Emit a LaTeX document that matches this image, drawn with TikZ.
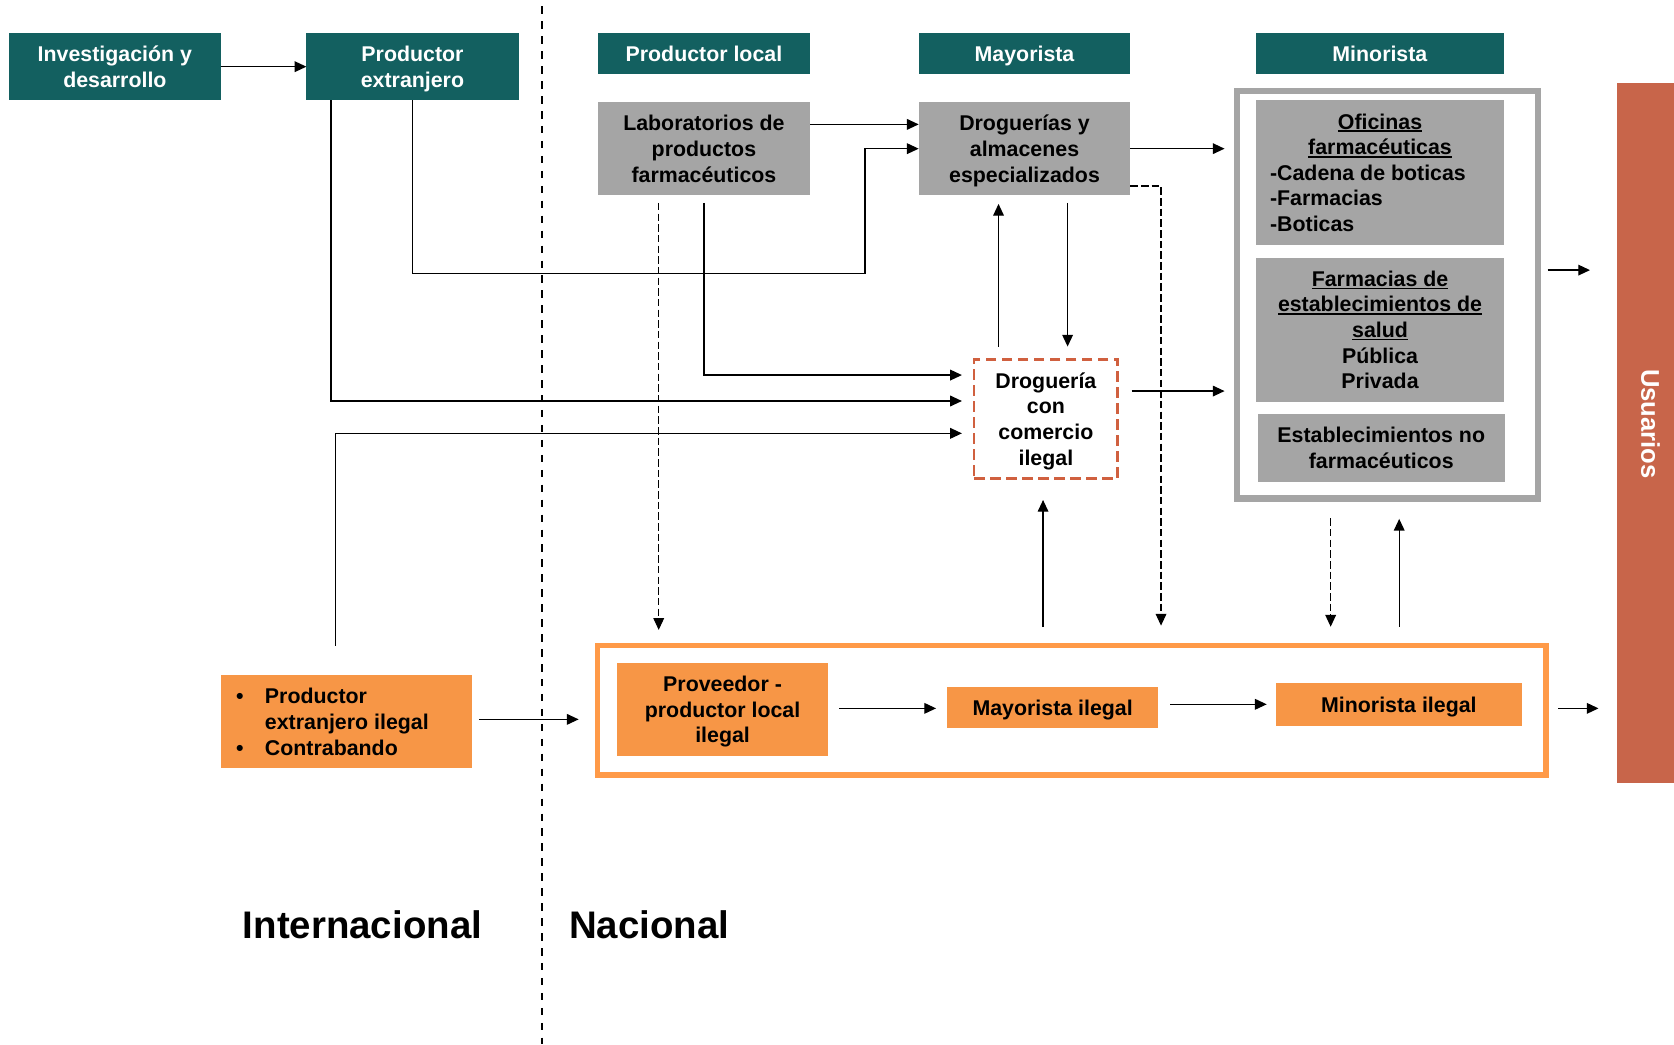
\documentclass[tikz,border=0pt]{standalone}
\usepackage{fontspec}
\setmainfont{Liberation Sans}
\usetikzlibrary{arrows.meta,calc}
\definecolor{tealc}{HTML}{136060}
\definecolor{grayc}{HTML}{A5A5A5}
\definecolor{orangec}{HTML}{F79646}
\definecolor{orline}{HTML}{FF9A48}
\definecolor{usuc}{HTML}{C8654A}
\definecolor{redash}{HTML}{D0603F}
\newcommand\myul[1]{\leavevmode\setbox0\hbox{#1}\rlap{\rule[-2.8pt]{\wd0}{1.5pt}}\box0}
\newcommand\bodyf{\fontsize{20}{24}\selectfont\bfseries}
\tikzset{
  base/.style={inner sep=0pt, outer sep=0pt, align=center, font=\bodyf, anchor=north west, text depth=0pt},
  hdr/.style={base, fill=tealc, text=white},
  graybox/.style={base, fill=grayc},
  orbox/.style={base, fill=orangec},
  arr/.style={-{Triangle[length=11pt,width=10pt]}, line width=1.2pt},
  dsh/.style={dash pattern=on 7pt off 3pt, line width=1pt},
}
\begin{document}
\begin{tikzpicture}[x=1pt,y=-1pt]
\useasboundingbox (0,0) rectangle (1568,978);
% divider
\coordinate (div1) at (508,6);
\coordinate (div2) at (508,978);
\draw[line width=2pt, dash pattern=on 7pt off 7pt] (div1) -- (div2);
% headers
\node[hdr, minimum width=198.2pt, minimum height=62.5pt] (inv) at (8.5,31.2) {Investigación y\\desarrollo};
\node[hdr, minimum width=198.7pt, minimum height=62.5pt] (pext) at (287,31.2) {Productor\\extranjero};
\node[hdr, minimum width=198.7pt, minimum height=38.1pt] (ploc) at (560,31.2) {Productor local};
\node[hdr, minimum width=198.3pt, minimum height=38.1pt] (mayo) at (860.5,31.2) {Mayorista};
\node[hdr, minimum width=232pt, minimum height=38.1pt] (mino) at (1176.5,31.2) {Minorista};
% gray boxes
\node[graybox, minimum width=198.7pt, minimum height=86.9pt] (lab) at (560,95.8) {Laboratorios de\\productos\\farmacéuticos};
\node[graybox, minimum width=198.3pt, minimum height=86.9pt] (drog) at (860.5,95.8) {Droguerías y\\almacenes\\especializados};
% minorista frame
\node[draw=grayc, line width=6pt, minimum width=282pt, minimum height=382pt, inner sep=0pt, outer sep=0pt, anchor=north west] (minbox) at (1158.5,85) {};
\node[graybox, minimum width=232.3pt, minimum height=135.8pt] (ofi) at (1176.5,93.7)
  {\begin{minipage}[b]{206pt}\centering\myul{Oficinas}\\\myul{farmacéuticas}\par\raggedright -Cadena de boticas\\-Farmacias\\-Boticas\end{minipage}};
\node[graybox, minimum width=232.3pt, minimum height=134.8pt] (fes) at (1176.5,241.4)
  {\myul{Farmacias de}\\\myul{establecimientos de}\\\myul{salud}\\Pública\\Privada};
\node[graybox, minimum width=231.8pt, minimum height=63.2pt] (enf) at (1177.9,388) {Establecimientos no\\farmacéuticos};
% usuarios
\node[base, fill=usuc, minimum width=53.4pt, minimum height=656.3pt] (usu) at (1514.6,77.4) {};
\node[inner sep=0pt, rotate=-90, text=white, font=\fontsize{24}{28}\selectfont\bfseries] (usutxt) at (1546,397) {Usuarios};
% drogueria ilegal
\node[base, draw=redash, line width=2.5pt, dash pattern=on 10pt off 5pt, minimum width=134.7pt, minimum height=111.4pt] (ileg) at (912.3,336.6) {Droguería\\con\\comercio\\ilegal};
% illegal frame
\node[draw=orline, line width=5pt, minimum width=888.6pt, minimum height=121.4pt, inner sep=0pt, outer sep=0pt, anchor=north west] (outer) at (559.5,604.5) {};
\node[orbox, minimum width=197.2pt, minimum height=87pt] (prov) at (578.2,621) {Proveedor -\\productor local\\ilegal};
\node[orbox, minimum width=198pt, minimum height=38.4pt] (mayil) at (887,643.8) {Mayorista ilegal};
\node[orbox, minimum width=230.6pt, minimum height=39.7pt] (minil) at (1195,640) {Minorista ilegal};
\node[orbox, minimum width=235pt, minimum height=87.1pt] (pexti) at (206.7,632.6) {};
\node[inner sep=0pt, anchor=west, font=\bodyf, align=left] (pextitxt) at (221,678.5)
  {\begin{tabular}{@{}p{27pt}@{}l@{}}•&Productor\\&extranjero ilegal\\•&Contrabando\end{tabular}};
% region labels
\node[inner sep=0pt, font=\fontsize{36}{40}\selectfont\bfseries] (intl) at (339.5,866) {Internacional};
\node[inner sep=0pt, font=\fontsize{36}{40}\selectfont\bfseries] (nacl) at (608,866) {Nacional};
% helper coordinates
\coordinate (c1) at (810.2,256);
\coordinate (ly) at (0,116.5);
\coordinate (mu) at (0,253);
\coordinate (i1) at (0,351.3);
\coordinate (i2) at (0,375.6);
\coordinate (i3) at (0,405.9);
\coordinate (i4) at (0,366.3);
\coordinate (s3) at (314,605);
\coordinate (vx1) at (935.3,0);
\coordinate (vx2) at (1000,0);
\coordinate (d1) at (0,174.2);
\coordinate (dx) at (1087.5,0);
\coordinate (lx) at (617,0);
\coordinate (ux) at (977,0);
\coordinate (mx1) at (1246.4,0);
\coordinate (mx2) at (1310.6,0);
\coordinate (y1) at (0,673.8);
\coordinate (y2) at (0,663.5);
\coordinate (y3) at (0,659.7);
% connectors
\draw[arr] (inv.east) -- (pext.west);
\draw[arr] (pext.south) |- (c1) |- (drog.west);
\draw[arr] (lab.east |- ly) -- (drog.west |- ly);
\draw[arr, shorten >=11.5pt] (drog.east) -- (drog.east -| minbox.west);
\draw[arr, shorten <=9pt, shorten >=25.3pt] (minbox.east |- mu) -- (usu.west |- mu);
\draw[arr, shorten <=7.3pt, shorten >=11.3pt] (lab.south) |- (ileg.west |- i1);
\draw[arr, shorten >=11.3pt] ($(pext.south west)+(23,0)$) |- (ileg.west |- i2);
\draw[arr, shorten >=11.3pt] (s3) |- (ileg.west |- i3);
\draw[arr, shorten <=12pt, shorten >=8.3pt] (ileg.north -| vx1) -- (drog.south -| vx1);
\draw[arr, shorten <=7.3pt, shorten >=12pt] (drog.south -| vx2) -- (ileg.north -| vx2);
\draw[arr, shorten <=13pt, shorten >=11.5pt] (ileg.east |- i4) -- (minbox.west |- i4);
\draw[arr, dsh, shorten >=18.5pt] (drog.east |- d1) -| (dx |- outer.north);
\draw[arr, dsh, shorten <=7.3pt, shorten >=14.5pt] (lab.south -| lx) -- (outer.north -| lx);
\draw[arr, shorten <=17pt, shorten >=20.3pt] (outer.north -| ux) -- (ileg.south -| ux);
\draw[arr, dsh, shorten <=18.5pt, shorten >=17.5pt] (minbox.south -| mx1) -- (outer.north -| mx1);
\draw[arr, shorten <=17.5pt, shorten >=19pt] (outer.north -| mx2) -- (minbox.south -| mx2);
\draw[arr, shorten <=7pt, shorten >=17.5pt] (pexti.east |- y1) -- (outer.west |- y1);
\draw[arr, shorten <=10.6pt, shorten >=10.2pt] (prov.east |- y2) -- (mayil.west |- y2);
\draw[arr, shorten <=11pt, shorten >=8.5pt] (mayil.east |- y3) -- (minil.west |- y3);
\draw[arr, shorten <=11.3pt, shorten >=17.3pt] (outer.east |- y2) -- (usu.west |- y2);
\end{tikzpicture}
\end{document}
